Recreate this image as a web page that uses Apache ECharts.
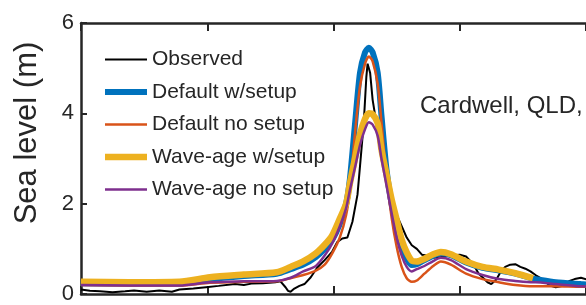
<!DOCTYPE html>
<html><head><meta charset="utf-8">
<script src="https://cdn.jsdelivr.net/npm/echarts@6/dist/echarts.min.js"></script>
<style>html,body{margin:0;padding:0;background:#fff}#c{width:586px;height:305px}</style>
</head><body><div id="c"></div>
<script>
const FONT = '"Liberation Sans", Arial, sans-serif';
const seriesNames = ['Observed','Default w/setup','Default no setup','Wave-age w/setup','Wave-age no setup'];
const yTicks = [0, 2, 4, 6];
const stationLabel = 'Cardwell, QLD,';
const yAxisTitle = 'Sea level (m)';

// time (days) for the observed record
const obsT = [0,0.07,0.15,0.25,0.35,0.42,0.52,0.62,0.72,0.78,0.89,0.99,1.09,1.22,1.29,1.35,1.44,1.54,1.58,1.62,1.64,1.66,1.69,1.73,1.77,1.82,1.87,1.93,1.99,2.03,2.07,2.11,2.15,2.19,2.21,2.24,2.26,2.27,2.29,2.31,2.35,2.38,2.42,2.46,2.50,2.54,2.58,2.62,2.66,2.70,2.74,2.79,2.85,2.93,3.00,3.05,3.11,3.15,3.18,3.22,3.25,3.29,3.33,3.36,3.40,3.44,3.48,3.52,3.56,3.60,3.64,3.68,3.72,3.76,3.80,3.84,3.87,3.91,3.96,4.03];
const observed = [0.10,0.07,0.06,0.04,0.06,0.08,0.05,0.08,0.05,0.10,0.12,0.15,0.18,0.22,0.20,0.23,0.24,0.26,0.28,0.15,0.07,0.05,0.12,0.18,0.22,0.37,0.58,0.75,0.94,1.15,1.23,1.25,1.60,2.20,2.83,3.80,4.80,5.10,4.90,4.30,3.60,3.00,2.50,2.10,1.75,1.50,1.25,1.08,1.00,0.87,0.85,0.80,0.82,0.85,0.87,0.83,0.65,0.45,0.37,0.26,0.22,0.32,0.52,0.60,0.65,0.66,0.60,0.56,0.50,0.42,0.35,0.26,0.18,0.15,0.17,0.24,0.29,0.33,0.36,0.30];

// time (days) for the model runs
const modelT = [0,0.38,0.78,1.02,1.29,1.55,1.66,1.76,1.86,1.93,1.99,2.05,2.10,2.13,2.17,2.21,2.25,2.28,2.31,2.35,2.38,2.42,2.46,2.50,2.54,2.58,2.62,2.66,2.72,2.79,2.85,2.93,3.05,3.18,3.31,3.44,3.58,3.60,3.76,3.96,4.07];
const defaultSetup = [0.24,0.23,0.23,0.33,0.40,0.45,0.55,0.65,0.82,1.00,1.20,1.55,2.00,2.55,3.75,4.90,5.35,5.45,5.35,4.90,3.95,2.75,2.00,1.50,1.05,0.78,0.64,0.66,0.75,0.85,0.90,0.86,0.70,0.58,0.52,0.45,0.34,0.33,0.26,0.22,0.20];
const defaultNoSetup = [0.20,0.19,0.19,0.25,0.27,0.28,0.35,0.42,0.52,0.65,0.90,1.25,1.75,2.30,3.55,4.60,5.10,5.26,5.15,4.65,3.80,2.60,1.70,1.05,0.60,0.35,0.27,0.30,0.45,0.62,0.72,0.65,0.45,0.33,0.26,0.20,0.17,0.17,0.17,0.16,0.16];
const waveAgeSetup = [0.27,0.26,0.27,0.37,0.43,0.48,0.60,0.72,0.90,1.09,1.30,1.67,2.00,2.45,3.00,3.54,3.88,4.00,3.98,3.78,3.20,2.65,2.10,1.65,1.20,0.92,0.74,0.72,0.78,0.88,0.93,0.88,0.72,0.60,0.54,0.46,0.35,null,null,null,null];
const waveAgeNoSetup = [0.20,0.19,0.19,0.26,0.28,0.29,0.36,0.50,0.62,0.85,1.12,1.50,1.90,2.30,2.80,3.30,3.65,3.80,3.75,3.50,3.00,2.40,1.80,1.25,0.85,0.60,0.50,0.55,0.62,0.73,0.80,0.75,0.55,0.42,0.33,0.29,0.26,0.26,0.22,0.17,0.16];

const colors = ['#000000', '#0072BD', '#D95319', '#EDB120', '#7E2F8E'];
const widths = [2, 6, 2.5, 6.5, 2.5];

const pair = (t, v) => t.map((x, i) => [x, v[i]]);
const AX = '#262626';

const axisCommon = {
  type: 'value', min: 0, max: 4, interval: 1,
  axisLine: { show: true, onZero: false, lineStyle: { color: AX, width: 2.5 } },
  axisTick: { show: true, inside: true, length: 8, lineStyle: { color: AX, width: 2 } },
  axisLabel: { show: false },
  splitLine: { show: false }
};

function line(i, data, smooth) {
  return { name: seriesNames[i], type: 'line', data, symbol: 'none', smooth, z: 2 + i,
    lineStyle: { color: colors[i], width: widths[i] }, itemStyle: { color: colors[i] },
    emphasis: { disabled: true } };
}

const legendData = seriesNames.map((n, i) => ({
  name: n,
  icon: 'path://M0,0 H42 V' + widths[i] + ' H0 Z',
  itemStyle: { color: colors[i], borderWidth: 0 }
}));

const chart = echarts.init(document.getElementById('c'), null, { renderer: 'canvas' });
chart.setOption({
  animation: false,
  backgroundColor: '#fff',
  textStyle: { fontFamily: FONT },
  grid: { left: 81, top: 23, right: -5, bottom: 5, containLabel: false },
  legend: {
    orient: 'vertical', left: 100, top: 44,
    itemWidth: 42, itemHeight: 14, itemGap: 11.5,
    selectedMode: false,
    textStyle: { fontSize: 21, lineHeight: 21, color: AX, fontFamily: FONT },
    data: legendData
  },
  xAxis: [
    Object.assign({}, axisCommon, { position: 'bottom' }),
    Object.assign({}, axisCommon, { position: 'top' })
  ],
  yAxis: {
    type: 'value', min: yTicks[0], max: yTicks[yTicks.length - 1], interval: 2,
    axisLine: { show: true, onZero: false, lineStyle: { color: AX, width: 2.5 } },
    axisTick: { show: true, inside: true, length: 6, lineStyle: { color: AX, width: 2 } },
    axisLabel: { fontSize: 22, color: AX, margin: 7, fontFamily: FONT },
    splitLine: { show: false }
  },
  graphic: [
    { type: 'text', x: 27, y: 133, rotation: Math.PI / 2,
      style: { text: yAxisTitle, fontSize: 31, fontFamily: FONT, fill: AX, align: 'center', verticalAlign: 'middle' } },
    { type: 'text', x: 420, y: 106,
      style: { text: stationLabel, fontSize: 24, fontFamily: FONT, fill: AX, align: 'left', verticalAlign: 'middle' } }
  ],
  series: [
    line(0, pair(obsT, observed), false),
    line(1, pair(modelT, defaultSetup), 0.25),
    line(2, pair(modelT, defaultNoSetup), 0.25),
    line(3, pair(modelT, waveAgeSetup), 0.25),
    line(4, pair(modelT, waveAgeNoSetup), 0.25)
  ]
});
</script></body></html>
